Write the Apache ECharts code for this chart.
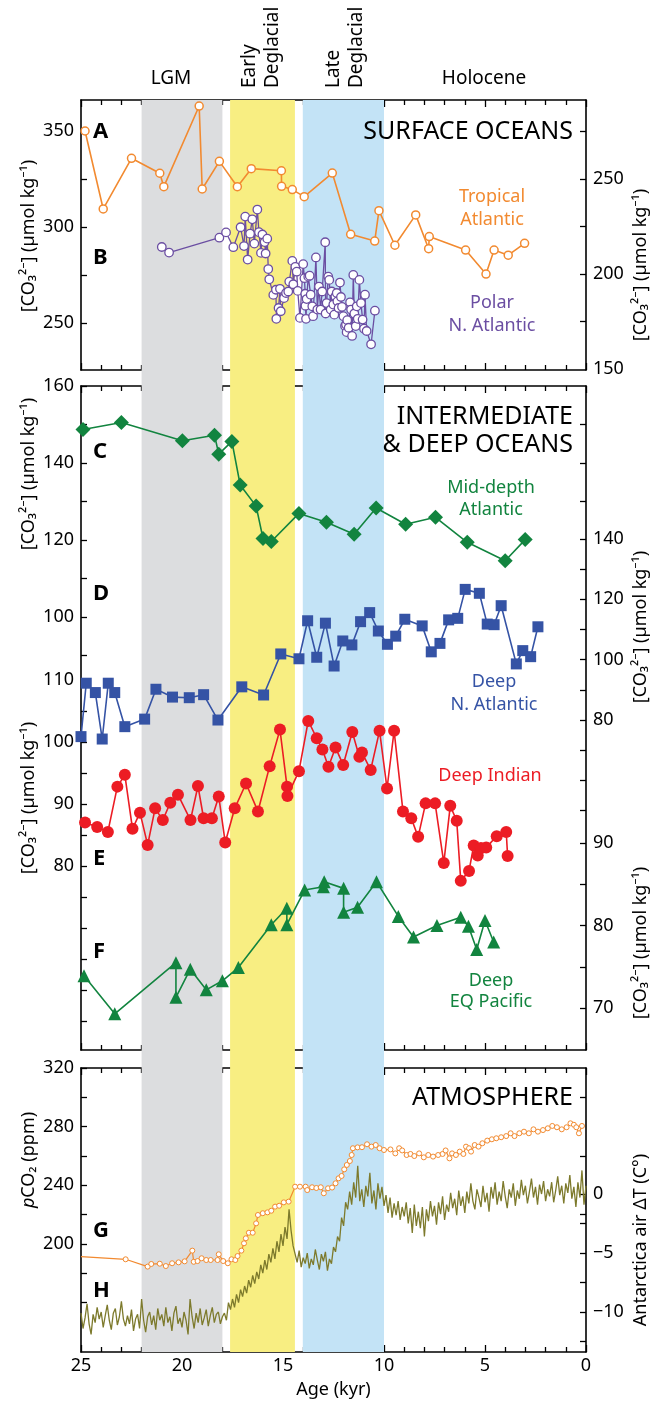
<!DOCTYPE html>
<html><head><meta charset="utf-8">
<script src="https://cdn.jsdelivr.net/npm/echarts@6/dist/echarts.min.js"></script>
<style>html,body{margin:0;padding:0;background:#fff}#c{width:655px;height:1401px}</style>
</head><body><div id="c"></div>
<script>
// ---------------- DATA ----------------
// Panel A: Tropical Atlantic surface [CO3 2-] (left axis)
const tropAge = [24.8,23.9,22.5,21.1,20.9,19.15,19.0,18.15,17.26,16.57,15.08,15.07,14.54,13.95,12.56,11.65,10.46,10.25,9.46,8.43,7.79,7.76,5.96,4.95,4.55,3.85,3.04];
const tropCO3 = [350,309.4,335.8,328,321,363,319.8,334.2,321,330.4,329.3,321.2,319.5,315.8,328.1,296.2,292.7,308.5,290.5,306.3,288.7,295,288,275.5,288,285.3,291.5];
// Panel B: Polar N. Atlantic (right axis)
const polarAge = [21.0,20.64,18.15,17.82,17.46,17.1,16.93,16.87,16.75,16.63,16.52,16.42,16.27,16.19,16.09,16.02,15.91,15.86,15.78,15.73,15.68,15.48,15.35,15.33,15.22,15.15,15.11,14.95,14.85,14.74,14.69,14.54,14.49,14.39,14.32,14.27,14.16,14.0,13.94,13.9,13.89,13.86,13.83,13.75,13.68,13.63,13.55,13.51,13.37,13.3,13.22,13.14,13.06,12.91,12.89,12.84,12.76,12.71,12.64,12.59,12.51,12.46,12.41,12.34,12.31,12.25,12.18,12.13,12.08,12.01,11.93,11.88,11.85,11.82,11.75,11.68,11.63,11.58,11.52,11.47,11.4,11.35,11.3,11.22,11.14,11.06,10.99,10.94,10.86,10.64,10.45];
const polarCO3 = [214.2,211.3,219.1,221.9,214.1,224.6,214.7,230.2,207.6,221.2,228.8,216,233.9,222,211.1,220.8,216.8,210.8,218.6,202.6,197.2,189,191.7,176.4,182.1,192.2,180.4,187.3,190,190.8,196,206.9,194.6,203.8,201.2,191.1,176.9,205.2,197.8,189.6,183.3,176.4,186.8,198.6,199.1,189.1,183,177.8,208.7,181.3,193.4,181.3,190.8,216.7,179.2,184.7,198.6,196.9,181.3,190.8,183.9,178.6,188.2,190,185.6,182.1,195.5,187.9,182.7,177.8,172.6,173.4,169.4,175.7,171.7,185.1,181.3,167.4,199.5,179.2,172.6,183,176.4,196.9,184.7,176,171.2,189.1,170,163,180.7];
// Panel C: Mid-depth Atlantic
const midAge = [24.9,23.0,19.98,18.39,18.18,17.53,17.12,16.33,15.99,15.58,14.21,12.85,11.48,10.39,8.93,7.45,5.88,4.0,3.01];
const midCO3 = [148.7,150.5,145.8,147.2,142.3,145.6,134.3,128.8,120.4,119.6,126.9,124.6,121.5,128.3,124.1,125.9,119.4,114.6,120.1];
// Panel D: Deep N. Atlantic
const dnaAge = [25.0,24.74,24.29,23.95,23.65,23.33,22.83,21.85,21.29,20.47,19.64,18.93,18.22,17.04,15.96,15.11,14.21,13.78,13.33,12.9,12.47,12.04,11.59,11.16,10.71,10.28,9.83,9.42,8.97,8.11,7.66,7.23,6.8,6.35,5.98,5.28,4.89,4.55,4.2,3.45,3.13,2.74,2.38];
const dnaCO3 = [74.5,92.2,89.1,73.7,92.2,89.1,77.8,80.3,90.2,87.6,87.4,88.4,80.0,91.0,88.3,101.9,100.3,112.9,100.8,112.1,97.9,106.2,104.9,112.6,115.6,109.5,105.1,107.8,113.4,111.2,102.6,105.4,113.2,113.7,123.3,122.0,111.8,111.6,117.9,98.6,103.0,101.0,110.9];
// Panel E: Deep Indian
const diAge = [24.8,24.2,23.67,23.2,22.83,22.45,22.08,21.7,21.33,20.95,20.58,20.2,19.58,19.21,18.93,18.52,18.18,17.86,17.39,16.83,16.24,15.66,15.15,14.8,14.78,14.21,13.75,13.33,13.05,12.75,12.4,12.02,11.57,11.22,11.09,10.66,10.22,9.85,9.5,9.06,8.65,8.31,7.94,7.47,7.04,6.72,6.4,6.2,5.79,5.56,5.36,5.2,4.94,4.42,3.95,3.88];
const diCO3 = [87.0,86.3,85.5,92.8,94.7,86.0,88.6,83.4,89.3,87.4,90.2,91.5,87.4,92.9,87.7,87.7,91.2,83.8,89.3,93.3,88.8,96.1,102.0,92.8,91.3,95.3,103.4,100.6,98.8,96.0,99.1,96.3,101.6,97.6,98.3,95.5,101.8,92.5,101.8,88.8,87.7,84.7,90.1,90.1,80.5,89.7,87.3,77.6,79.2,83.3,81.7,82.9,83.0,84.8,85.5,81.6];
// Panel F: Deep EQ Pacific
const epAge = [24.85,23.33,20.3,20.3,19.59,18.8,18.0,17.21,15.58,14.81,14.81,13.93,13.0,12.96,12.0,12.0,11.31,10.37,9.29,8.54,7.38,6.2,5.82,5.41,5.0,4.57];
const epCO3 = [73.9,69.3,75.5,71.3,74.7,72.2,73.3,74.9,80.1,82.1,80.1,84.3,84.7,85.3,84.5,81.6,82.2,85.3,81.1,78.6,80.0,81.0,79.9,77.1,80.6,78.0];
// Panel G: atmospheric pCO2
const co2Age = [25.0,22.79,21.7,21.52,21.1,20.8,20.49,20.17,19.87,19.49,19.42,19.23,19.03,18.8,18.58,18.24,18.18,17.96,17.73,17.55,17.36,17.25,17.06,16.93,16.84,16.69,16.5,16.33,16.24,16.0,15.77,15.58,15.39,15.19,14.96,14.72,14.4,14.16,13.88,13.8,13.56,13.35,13.13,12.98,12.77,12.57,12.4,12.25,12.1,11.97,11.84,11.69,11.6,11.54,11.31,11.09,10.84,10.62,10.41,10.22,10.0,9.68,9.44,9.25,9.1,8.88,8.69,8.5,8.26,8.03,7.81,7.57,7.32,7.1,6.95,6.76,6.63,6.44,6.25,6.07,5.94,5.79,5.69,5.51,5.32,5.13,4.89,4.66,4.44,4.2,3.95,3.73,3.54,3.3,3.07,2.83,2.6,2.38,2.13,1.89,1.67,1.44,1.2,0.96,0.77,0.6,0.48,0.35,0.2];
const co2 = [191.4,189.6,184.6,186.4,186.6,185.0,186.9,187.5,188.2,195.5,187.9,188.4,190.3,189.1,189.1,189.1,193.0,188.4,186.9,189.6,189.1,191.8,195.5,200.5,203.9,207.7,207.7,214.1,219.8,221.0,221.6,222.7,225.5,226.1,228.4,228.9,239.1,239.1,239.1,236.8,238.7,238.2,238.7,234.6,238.0,238.5,241.4,244.8,246.4,250.9,253.9,256.6,260.7,265.3,265.9,266,268,266.4,267.5,265.3,264.1,264.5,261.8,265.3,263.8,260.7,261.4,260,261.8,259.1,260.7,259.6,260.7,261.4,263.8,258.4,261.8,260.7,263.0,261.4,266.4,265.3,263.0,267.5,266.4,268.7,270.5,271.4,272.1,272.8,273.6,275.5,273.6,275.5,276.6,275.5,278.2,276.6,277.7,278.9,280.5,279.6,278.2,279.6,282.3,281.3,279.6,275.5,280.5];
// Panel H: Antarctic air temperature anomaly, read every 0.1 kyr from 25.0 to 0.0
const tempStart = 25.0, tempStep = 0.1;
const tempH = [
-10.1,-11.4,-10.5,-9.3,-11.0,-11.9,-10.2,-10.9,-9.6,-10.6,
-10.0,-11.3,-10.3,-9.4,-10.7,-11.5,-10.1,-9.7,-11.1,-10.4,
-9.1,-10.6,-11.2,-10.3,-11.0,-9.8,-11.6,-10.6,-10.2,-11.4,
-8.9,-10.7,-11.7,-10.4,-10.0,-11.1,-10.3,-11.5,-9.7,-10.7,
-10.2,-11.2,-9.6,-10.9,-10.4,-11.6,-10.1,-9.5,-11.0,-10.5,
-11.3,-10.0,-10.7,-11.9,-8.9,-10.4,-11.4,-10.1,-10.9,-9.7,
-11.1,-10.5,-9.8,-11.2,-10.3,-9.6,-10.9,-10.2,-10.0,-11.0,
-10.4,-10.1,-10.7,-9.2,-9.8,-8.9,-9.6,-8.5,-9.2,-8.1,
-8.7,-7.8,-8.4,-7.3,-7.9,-6.9,-7.6,-6.6,-7.2,-6.0,
-6.7,-5.6,-6.4,-5.1,-5.8,-4.6,-5.5,-4.0,-4.9,-3.4,
-4.4,-2.8,-3.8,-1.3,-3.1,-4.4,-5.1,-5.8,-4.8,-6.2,
-5.4,-5.9,-5.0,-6.3,-5.5,-6.0,-4.7,-5.6,-6.4,-5.1,
-5.7,-4.9,-6.5,-5.5,-5.9,-4.5,-4.9,-3.6,-4.0,-2.0,
-2.7,-0.7,-1.3,0.2,-0.9,1.0,-0.3,2.4,-0.6,0.4,
-1.1,0.7,-0.2,1.8,-0.8,0.3,-1.3,0.9,-0.4,0.6,
-1.0,-0.1,-1.6,-0.3,-2.0,-0.8,-1.8,-0.6,-2.2,-1.1,
-1.9,-0.7,-2.5,-1.2,-3.3,-0.9,-2.7,-1.5,-2.9,-1.1,
-3.6,-1.3,-2.3,-0.6,-1.9,-1.0,-2.6,-0.7,-1.7,-0.2,
-2.2,-0.9,-1.5,0.1,-1.2,-0.4,-1.8,0.3,-1.0,-0.2,
-1.6,0.2,-0.8,0.9,-0.6,-1.3,0.4,-0.3,-1.1,0.7,
-0.7,0.1,-1.5,0.6,-0.4,1.0,-0.9,0.2,-0.6,1.1,
-0.2,-1.2,0.4,-0.3,0.9,-1.0,0.3,-0.4,1.2,-0.1,
0.7,-0.8,0.2,1.3,-0.3,0.6,-0.9,0.8,0.0,1.1,
-0.6,0.4,-0.2,1.0,-0.7,0.3,1.5,-0.1,0.7,-0.8,
0.9,0.1,1.6,-0.4,0.6,-1.1,1.0,-0.3,2.0,-0.9,
0.7];
// Climate intervals (kyr)
const periodNames = ['LGM','Early Deglacial','Late Deglacial'];
const periodStart = [22.0, 17.62, 14.02];
const periodEnd = [18.0, 14.41, 10.0];
// Axis tick labels
const labA = [250,300,350], tickA = [250,275,300,325,350];
const labB = [150,200,250], tickB = [175,200,225,250,275];
const labC = [100,120,140,160], tickC = [90,100,110,120,130,140,150,160];
const labE = [80,90,100,110], tickE = [55,60,65,70,75,80,85,90,95,100,105,110];
const labD = [80,100,120,140], tickD = [50,60,70,80,90,100,110,120,130,140];
const labF = [70,80,90], tickF = [70,75,80,85,90];
const labP = [200,240,280,320], tickP = [160,180,200,220,240,260,280,300,320];
const labT = [-10,-5,0], tickT = [-12.5,-10,-7.5,-5,-2.5,0];

// ---------------- CHART ----------------
const FF = '"Noto Sans", "DejaVu Sans", sans-serif';
const ORANGE = '#f28a30', PURPLE = '#6b4ea2', GREEN = '#12843f', BLUE = '#3553a5', RED = '#ec1c24', OLIVE = '#7d7a2c';
const BANDS = ['#dcdddf', '#f8ee82', '#c3e3f6'];
const L = 81, R = 69;
const pairs = (a, v) => a.map((x, i) => [x, v[i]]);

function xAx(gi, pos, show) {
  return {
    type: 'value', gridIndex: gi, position: pos, min: 0, max: 25, interval: 5, inverse: true,
    show: gi !== 0,
    axisLine: {show: true, onZero: false, lineStyle: {color: '#000', width: 1.6}},
    axisTick: {show: true, inside: true, length: 7, lineStyle: {color: '#000', width: 1.3}},
    minorTick: {show: true, splitNumber: 5, length: 5, lineStyle: {color: '#000', width: 1.3}},
    axisLabel: {show: show, color: '#000', fontSize: 18, fontFamily: FF, margin: 5},
    splitLine: {show: false}, minorSplitLine: {show: false},
    name: show ? 'Age (kyr)' : '', nameLocation: 'middle', nameGap: 29,
    nameTextStyle: {color: '#000', fontSize: 18, fontFamily: FF}
  };
}
function yAx(gi, pos, min, max, labels, ticks, line) {
  return {
    type: 'value', gridIndex: gi, position: pos, min: min, max: max,
    axisLine: {show: line, onZero: false, lineStyle: {color: '#000', width: 1.6}},
    axisTick: {show: ticks.length > 0, inside: true, length: 6, customValues: ticks.length ? ticks : undefined, lineStyle: {color: '#000', width: 1.3}},
    axisLabel: {show: labels.length > 0, customValues: labels.length ? labels : undefined, color: '#000', fontSize: 18, fontFamily: FF, margin: 7,
      formatter: v => String(v).replace('-', '\u2212')},
    splitLine: {show: false}
  };
}
const base = {type: 'line', silent: true, animation: false, emphasis: {disabled: true}, clip: true};

const option = {
  animation: false,
  backgroundColor: '#fff',
  textStyle: {fontFamily: FF},
  grid: [
    {left: L, right: R, top: 100, height: 1252, outerBoundsMode: 'none'},
    {left: L, right: R, top: 100, height: 270, outerBoundsMode: 'none'},
    {left: L, right: R, top: 386, height: 664, outerBoundsMode: 'none'},
    {left: L, right: R, top: 1068, height: 284, outerBoundsMode: 'none'}
  ],
  xAxis: [xAx(0, 'bottom', false), xAx(1, 'bottom', false), xAx(1, 'top', false),
          xAx(2, 'bottom', false), xAx(2, 'top', false), xAx(3, 'bottom', true), xAx(3, 'top', false)],
  yAxis: [
    {type: 'value', gridIndex: 0, min: 0, max: 1, show: false},
    yAx(1, 'left', 225.52, 366.15, labA, tickA, true),
    yAx(1, 'right', 149.47, 291.58, labB, tickB, true),
    yAx(2, 'left', -12.47, 160, labC, tickC, true),
    yAx(2, 'left', 50.32, 157.42, labE, tickE, false),
    yAx(2, 'right', -29.37, 190.71, labD, tickD, true),
    yAx(2, 'right', 64.91, 145.39, labF, tickF, false),
    yAx(2, 'right', -12.47, 160, [], [130,140,150], false),
    yAx(3, 'left', 126.4, 320, labP, tickP, true),
    yAx(3, 'right', -13.39, 10.68, labT, tickT, true),
    yAx(3, 'right', 126.4, 320, [], [220,260,300], false)
  ],
  series: [
    Object.assign({}, base, {
      xAxisIndex: 0, yAxisIndex: 0, z: -10, data: [[12, 0.5]], showSymbol: false, lineStyle: {opacity: 0},
      markArea: {silent: true, label: {show: false},
        data: periodStart.map((s, i) => [{xAxis: s, name: periodNames[i], itemStyle: {color: BANDS[i], opacity: 1}}, {xAxis: periodEnd[i]}])}
    }),
    Object.assign({}, base, {name: 'Tropical Atlantic', xAxisIndex: 1, yAxisIndex: 1, z: 4, data: pairs(tropAge, tropCO3),
      symbol: 'circle', symbolSize: 8, itemStyle: {color: '#fff', borderColor: ORANGE, borderWidth: 1.5}, lineStyle: {color: ORANGE, width: 1.6}}),
    Object.assign({}, base, {name: 'Polar N. Atlantic', xAxisIndex: 1, yAxisIndex: 2, z: 4, data: pairs(polarAge, polarCO3),
      symbol: 'circle', symbolSize: 8.5, itemStyle: {color: '#fff', borderColor: PURPLE, borderWidth: 1.3}, lineStyle: {color: PURPLE, width: 1.3}}),
    Object.assign({}, base, {name: 'Mid-depth Atlantic', xAxisIndex: 3, yAxisIndex: 3, z: 4, data: pairs(midAge, midCO3),
      symbol: 'diamond', symbolSize: 15, itemStyle: {color: GREEN}, lineStyle: {color: GREEN, width: 1.6}}),
    Object.assign({}, base, {name: 'Deep N. Atlantic', xAxisIndex: 3, yAxisIndex: 5, z: 4, data: pairs(dnaAge, dnaCO3),
      symbol: 'rect', symbolSize: 11, itemStyle: {color: BLUE}, lineStyle: {color: BLUE, width: 1.6}}),
    Object.assign({}, base, {name: 'Deep Indian', xAxisIndex: 3, yAxisIndex: 4, z: 4, data: pairs(diAge, diCO3),
      symbol: 'circle', symbolSize: 12, itemStyle: {color: RED}, lineStyle: {color: RED, width: 1.6}}),
    Object.assign({}, base, {name: 'Deep EQ Pacific', xAxisIndex: 3, yAxisIndex: 6, z: 4, data: pairs(epAge, epCO3),
      symbol: 'triangle', symbolSize: 13, itemStyle: {color: GREEN}, lineStyle: {color: GREEN, width: 1.6}}),
    Object.assign({}, base, {name: 'Antarctica air dT', xAxisIndex: 5, yAxisIndex: 9, z: 3,
      data: tempH.map((v, i) => [+(tempStart - i * tempStep).toFixed(2), v]),
      showSymbol: false, symbol: 'none', lineStyle: {color: OLIVE, width: 1.3}}),
    Object.assign({}, base, {name: 'pCO2', xAxisIndex: 5, yAxisIndex: 8, z: 4,
      data: pairs(co2Age, co2).map((p, i) => i === 0 ? {value: p, symbol: 'none'} : p),
      symbol: 'circle', symbolSize: 5, itemStyle: {color: '#fff', borderColor: ORANGE, borderWidth: 1}, lineStyle: {color: ORANGE, width: 1.2}})
  ],
  graphic: []
};

function T(x, y, text, size, color, o) {
  o = o || {};
  return {type: 'text', x: x, y: y, rotation: o.rot || 0, silent: true, z: 100,
    style: {text: text, fill: color, fontSize: size, fontFamily: FF, fontWeight: o.bold ? 'bold' : 'normal',
      align: o.align || 'center', verticalAlign: o.va || 'middle'}};
}
const ROT = Math.PI / 2;
const yTitle = '[CO\u2083\u00B2\u207B] (\u00B5mol kg\u207B\u00B9)';
option.graphic = [
  T(171, 79, 'LGM', 19, '#000'),
  T(250, 88, 'Early', 19, '#000', {rot: ROT, align: 'left'}),
  T(273, 88, 'Deglacial', 19, '#000', {rot: ROT, align: 'left'}),
  T(334, 88, 'Late', 19, '#000', {rot: ROT, align: 'left'}),
  T(357, 88, 'Deglacial', 19, '#000', {rot: ROT, align: 'left'}),
  T(484, 79, 'Holocene', 19, '#000'),
  T(573, 132, 'SURFACE OCEANS', 25, '#000', {align: 'right'}),
  T(492, 197, 'Tropical', 18, ORANGE), T(492, 220, 'Atlantic', 18, ORANGE),
  T(492, 303, 'Polar', 18, PURPLE), T(492, 326, 'N. Atlantic', 18, PURPLE),
  T(573, 417, 'INTERMEDIATE', 25, '#000', {align: 'right'}),
  T(573, 445, '& DEEP OCEANS', 25, '#000', {align: 'right'}),
  T(491, 488, 'Mid-depth', 18, GREEN), T(491, 510, 'Atlantic', 18, GREEN),
  T(494, 682, 'Deep', 18, BLUE), T(494, 705, 'N. Atlantic', 18, BLUE),
  T(490, 776, 'Deep Indian', 18, RED),
  T(491, 981, 'Deep', 18, GREEN), T(491, 1002, 'EQ Pacific', 18, GREEN),
  T(573, 1098, 'ATMOSPHERE', 25, '#000', {align: 'right'}),
  T(93, 132, 'A', 22, '#000', {bold: true, align: 'left'}),
  T(93, 258, 'B', 22, '#000', {bold: true, align: 'left'}),
  T(93, 452, 'C', 22, '#000', {bold: true, align: 'left'}),
  T(93, 594, 'D', 22, '#000', {bold: true, align: 'left'}),
  T(93, 859, 'E', 22, '#000', {bold: true, align: 'left'}),
  T(93, 952, 'F', 22, '#000', {bold: true, align: 'left'}),
  T(93, 1231, 'G', 22, '#000', {bold: true, align: 'left'}),
  T(93, 1291, 'H', 22, '#000', {bold: true, align: 'left'}),
  T(29, 236, yTitle, 18, '#000', {rot: ROT}),
  T(641, 265, yTitle, 18, '#000', {rot: ROT}),
  T(29, 474, yTitle, 18, '#000', {rot: ROT}),
  T(29, 798, yTitle, 18, '#000', {rot: ROT}),
  T(641, 627, yTitle, 18, '#000', {rot: ROT}),
  T(641, 943, yTitle, 18, '#000', {rot: ROT}),
  {type: 'text', x: 29, y: 1160, rotation: ROT, silent: true, z: 100,
    style: {text: '{i|p}CO\u2082 (ppm)', fill: '#000', fontSize: 18, fontFamily: FF, align: 'center', verticalAlign: 'middle',
      rich: {i: {fontStyle: 'italic', fontSize: 18, fontFamily: FF, fill: '#000'}}}},
  T(641, 1240, 'Antarctica air \u0394T (C\u00B0)', 18, '#000', {rot: ROT})
];

const chart = echarts.init(document.getElementById('c'), null, {renderer: 'canvas', width: 655, height: 1401});
chart.setOption(option);
</script>
</body></html>
